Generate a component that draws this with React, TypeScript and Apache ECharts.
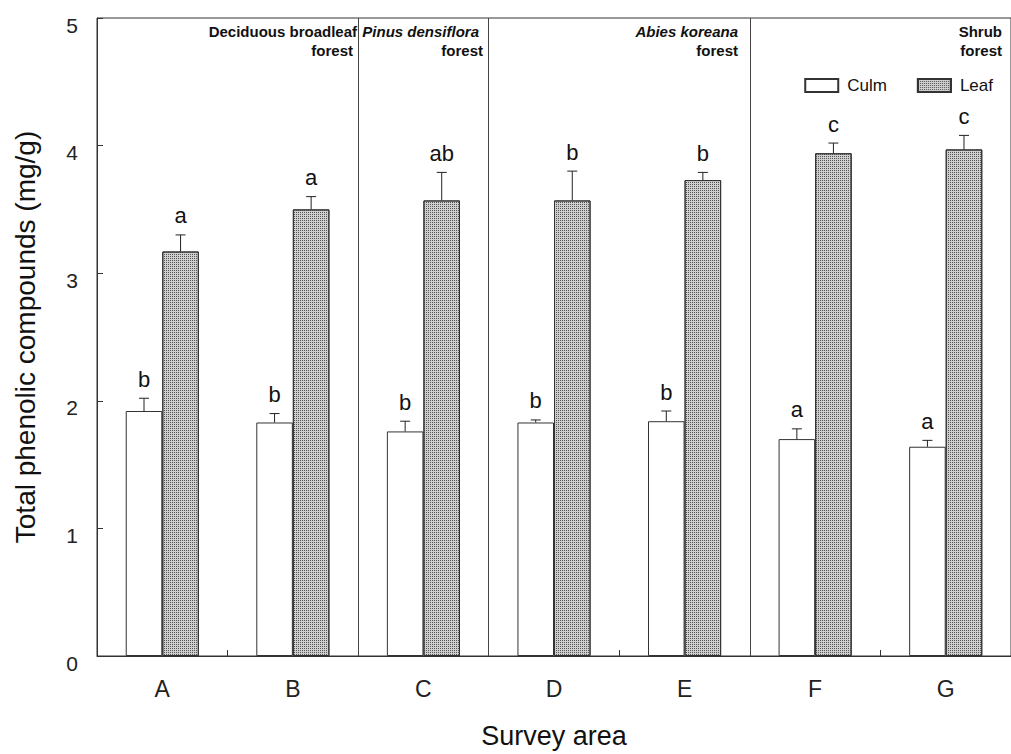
import React, { useEffect, useRef } from "react";
import * as echarts from "echarts";

const categories = ["A", "B", "C", "D", "E", "F", "G"];
const culmMean = [1.92, 1.83, 1.76, 1.83, 1.84, 1.70, 1.64];
const culmErr = [0.10, 0.07, 0.08, 0.02, 0.08, 0.08, 0.05];
const culmLetters = ["b", "b", "b", "b", "b", "a", "a"];
const leafMean = [3.17, 3.50, 3.57, 3.57, 3.73, 3.94, 3.97];
const leafErr = [0.13, 0.10, 0.22, 0.23, 0.06, 0.08, 0.11];
const leafLetters = ["a", "a", "ab", "b", "b", "c", "c"];
const yTicks = [0, 1, 2, 3, 4, 5];
const separatorPositions = [2, 3, 5];
const forestLine1 = ["Deciduous broadleaf", "Pinus densiflora", "Abies koreana", "Shrub"];
const forestLine2 = ["forest", "forest", "forest", "forest"];
const forestItalic = [false, true, true, false];

const FONT = '"Liberation Sans", Arial, sans-serif';

function errRender(sign: number, letters: string[]) {
  return (params: any, api: any) => {
    const idx = api.value(0);
    const mean = api.value(1);
    const err = api.value(2);
    const band = api.size([1, 0])[0];
    const off = sign * band * 0.14;
    const base = api.coord([idx, mean]);
    const top = api.coord([idx, mean + err]);
    const x = base[0] + off;
    const half = 5;
    return {
      type: "group",
      children: [
        { type: "line", shape: { x1: x, y1: base[1], x2: x, y2: top[1] }, style: { stroke: "#222", lineWidth: 1 } },
        { type: "line", shape: { x1: x - half, y1: top[1], x2: x + half, y2: top[1] }, style: { stroke: "#222", lineWidth: 1 } },
        {
          type: "text",
          x: x,
          y: top[1] - 8,
          style: {
            text: letters[params.dataIndex],
            font: `22px ${FONT}`,
            fill: "#111",
            align: "center",
            verticalAlign: "bottom",
          },
        },
      ],
    };
  };
}

export default function App() {
  const ref = useRef<HTMLDivElement>(null);
  useEffect(() => {
    if (!ref.current) return;
    const chart = echarts.init(ref.current, null, { renderer: "svg" });

    const labelRight1 = [357, 479, 738, 1002];
    const labelRight2 = [353, 483, 738, 1002];
    const graphics: any[] = [];
    forestLine1.forEach((t, i) => {
      const st = forestItalic[i] ? "italic " : "";
      graphics.push({
        type: "text",
        x: labelRight1[i],
        y: 31,
        style: { text: t, font: `${st}bold 15px ${FONT}`, fill: "#111", align: "right", verticalAlign: "middle" },
      });
      graphics.push({
        type: "text",
        x: labelRight2[i],
        y: 50,
        style: { text: forestLine2[i], font: `bold 15px ${FONT}`, fill: "#111", align: "right", verticalAlign: "middle" },
      });
    });

    const leafDecal = {
      symbol: "rect",
      symbolSize: 1,
      color: "#555555",
      dashArrayX: [1, 1],
      dashArrayY: [1, 1],
    };

    chart.setOption({
      animation: false,
      backgroundColor: "#fff",
      textStyle: { fontFamily: FONT },
      grid: { left: 97, right: -1, top: 18, bottom: 98, show: true, borderColor: "#333", borderWidth: 1 },
      legend: {
        data: ["Culm", "Leaf"],
        right: 18,
        top: 77,
        icon: "rect",
        itemWidth: 33,
        itemHeight: 13,
        itemGap: 30,
        padding: 0,
        textStyle: { fontSize: 17, color: "#111", fontFamily: FONT, padding: [0, 0, 0, 4] },
      },
      xAxis: [
        {
          type: "category",
          data: categories,
          axisLine: { show: true, lineStyle: { color: "#333", width: 1 } },
          axisTick: { show: true, inside: true, length: 6, lineStyle: { color: "#333" } },
          axisLabel: { fontSize: 23, color: "#222", margin: 21, fontFamily: FONT },
          name: "Survey area",
          nameLocation: "middle",
          nameGap: 66,
          nameTextStyle: { fontSize: 27, color: "#111", fontFamily: FONT },
        },
        { type: "value", min: 0, max: 7, show: false },
      ],
      yAxis: {
        type: "value",
        min: 0,
        max: 5,
        interval: 1,
        axisLine: { show: true, lineStyle: { color: "#333", width: 1 } },
        axisTick: { show: true, inside: true, length: 6, lineStyle: { color: "#333" } },
        splitLine: { show: false },
        axisLabel: {
          fontSize: 21,
          color: "#222",
          margin: 19,
          lineHeight: 30,
          verticalAlign: "top",
          padding: [-8, 0, 0, 0],
          fontFamily: FONT,
          formatter: (v: number) => (yTicks.includes(v) ? String(v) : ""),
        },
        name: "Total phenolic compounds (mg/g)",
        nameLocation: "middle",
        nameGap: 58,
        nameRotate: 90,
        nameTextStyle: { fontSize: 28, color: "#111", fontFamily: FONT },
      },
      graphic: graphics,
      series: [
        {
          name: "Culm",
          type: "bar",
          data: culmMean,
          barWidth: "28%",
          barGap: "0%",
          itemStyle: { color: "#ffffff", borderColor: "#333", borderWidth: 1 },
        },
        {
          name: "Leaf",
          type: "bar",
          data: leafMean,
          barWidth: "28%",
          barGap: "0%",
          itemStyle: { color: "#cfcfcf", borderColor: "#333", borderWidth: 1, decal: leafDecal },
        },
        {
          name: "culmErr",
          type: "custom",
          renderItem: errRender(-1, culmLetters),
          data: categories.map((_, i) => [i, culmMean[i], culmErr[i]]),
          encode: { x: 0, y: 1 },
          z: 5,
          silent: true,
        },
        {
          name: "leafErr",
          type: "custom",
          renderItem: errRender(1, leafLetters),
          data: categories.map((_, i) => [i, leafMean[i], leafErr[i]]),
          encode: { x: 0, y: 1 },
          z: 5,
          silent: true,
        },
        {
          name: "separators",
          type: "line",
          xAxisIndex: 1,
          data: [],
          silent: true,
          markLine: {
            silent: true,
            symbol: ["none", "none"],
            label: { show: false },
            lineStyle: { color: "#444", width: 1, type: "solid" },
            data: separatorPositions.map((v) => ({ xAxis: v })),
          },
        },
      ],
    });
    return () => chart.dispose();
  }, []);
  return (
    <div
      ref={ref}
      style={{ position: "absolute", left: 0, top: 0, width: 1011, height: 754, background: "#fff" }}
    />
  );
}
